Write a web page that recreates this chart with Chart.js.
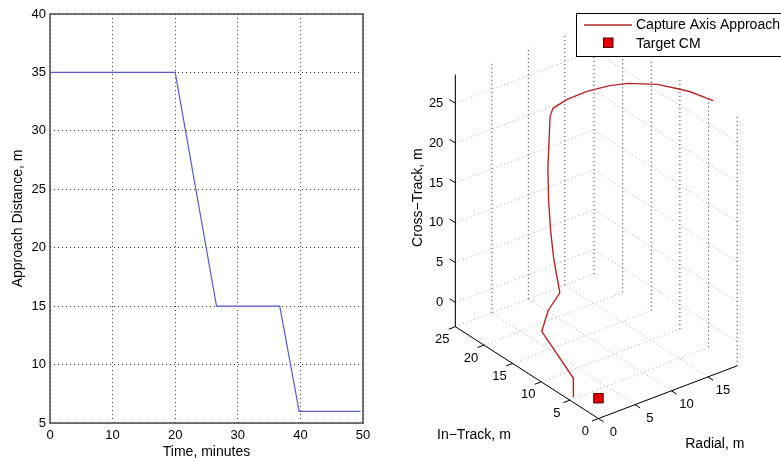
<!DOCTYPE html>
<html><head><meta charset="utf-8">
<script src="https://cdn.jsdelivr.net/npm/chart.js@4.4.1/dist/chart.umd.min.js"></script>
<style>
html,body{margin:0;padding:0;background:#fff;}
#wrap{position:relative;width:781px;height:462px;overflow:hidden;background:#fff;}
#c1{position:absolute;left:0;top:0;}
#c2{position:absolute;left:390px;top:0;}
</style></head><body>
<div id="wrap"><canvas id="c1" width="390" height="462"></canvas><canvas id="c2" width="391" height="462"></canvas></div>
<script>
// ---------- Left panel data ----------
const timeMinutes      = [0, 20, 26.6, 36.7, 39.8, 49.6];
const approachDistance = [35, 35, 15, 15, 6, 6];
const timeTicks        = [0, 10, 20, 30, 40, 50];
const distanceTicks    = [5, 10, 15, 20, 25, 30, 35, 40];

// ---------- Right panel data (3-D trajectory) ----------
const inTrack    = [4.2, 7.3, 9.0, 10.6, 12.7, 13.5, 14.0, 13.9, 13.3, 13.3, 13.3, 13.3, 13.3, 13.3, 14.4, 13.5, 11.7, 4.4, 4.5];
const radial     = [19.0, 18.2, 17.3, 16.4, 14.0, 12.1, 9.4, 6.6, 4.2, 3.8, 3.5, 3.6, 3.9, 4.3, 6.0, 3.7, 1.4, 0.0, 0.1];
const crossTrack = [28.3, 28.3, 28.3, 28.3, 28.3, 28.3, 28.3, 28.3, 28.3, 27.4, 20.9, 16.9, 12.8, 9.4, 4.0, 3.0, 2.0, 0.0, -2.5];
const targetCM   = [0, 0, -0.5];          // in-track, radial, cross-track
const inTrackTicks    = [0, 5, 10, 15, 20, 25];
const radialTicks     = [0, 5, 10, 15];
const crossTrackTicks = [0, 5, 10, 15, 20, 25];
const inTrackLim    = [0, 25];
const radialLim     = [0, 19];
const crossTrackLim = [-3.05, 28.6];

const FONT = "'Liberation Sans', Arial, Helvetica, sans-serif";
Chart.defaults.font.family = FONT;
Chart.defaults.color = '#000';

// ---------- Left chart ----------
const framePlugin = {
  id: 'frame',
  afterDraw(chart) {
    const {ctx, chartArea: a} = chart;
    ctx.save();
    ctx.strokeStyle = '#4a4a4a';
    ctx.lineWidth = 1.5;
    ctx.strokeRect(a.left, a.top, a.right - a.left, a.bottom - a.top);
    ctx.restore();
  }
};

new Chart(document.getElementById('c1'), {
  type: 'line',
  data: {
    datasets: [{
      data: timeMinutes.map((t, k) => ({x: t, y: approachDistance[k]})),
      borderColor: '#5a5ac8', borderWidth: 1.2, pointRadius: 0, tension: 0, fill: false
    }]
  },
  options: {
    responsive: false, animation: false, devicePixelRatio: 1,
    layout: {padding: {top: 14, right: 27, left: 0, bottom: 0}},
    plugins: {legend: {display: false}, tooltip: {enabled: false}},
    scales: {
      x: {
        type: 'linear', min: 0, max: 50,
        afterBuildTicks: s => { s.ticks = timeTicks.map(v => ({value: v})); },
        afterFit: s => { s.height = 39; },
        ticks: {padding: 5, maxRotation: 0, color: '#000', font: {size: 13}},
        grid: {color: '#333', drawTicks: false, lineWidth: 1},
        border: {display: false, dash: [1, 3]},
        title: {display: true, text: 'Time, minutes', color: '#000', font: {size: 14}, padding: {top: 0, bottom: 1.6}}
      },
      y: {
        type: 'linear', min: 5, max: 40,
        afterBuildTicks: s => { s.ticks = distanceTicks.map(v => ({value: v})); },
        afterFit: s => { s.width = 50; },
        ticks: {padding: 4, color: '#000', font: {size: 13}},
        grid: {color: '#333', drawTicks: false, lineWidth: 1},
        border: {display: false, dash: [1, 3]},
        title: {display: true, text: 'Approach Distance, m', color: '#000', font: {size: 14}, padding: {top: 9.6, bottom: 0}}
      }
    }
  },
  plugins: [framePlugin]
});

// ---------- Right chart (3-D view projected onto a pixel-unit scatter plane) ----------
const VIEW = {ox: 209, oy: 425, ix: -5.96, iy: -3.8, rx: 7.6, ry: -2.87, zy: -8.24};
function project(i, r, z) {
  return {
    x: VIEW.ox + VIEW.ix * i + VIEW.rx * r,
    y: VIEW.oy + VIEW.iy * i + VIEW.ry * r + VIEW.zy * (z - crossTrackLim[0])
  };
}

const I0 = inTrackLim[0], I1 = inTrackLim[1];
const R0 = radialLim[0], R1 = radialLim[1];
const Z0 = crossTrackLim[0], Z1 = crossTrackLim[1];

const datasets = [];
datasets.push({
  label: 'Target CM', data: [project(...targetCM)], showLine: false,
  pointStyle: 'rect', pointRadius: 6.7, backgroundColor: '#e00000', borderColor: '#500000', borderWidth: 1, order: 0
});
datasets.push({
  label: 'Capture Axis Approach',
  data: inTrack.map((v, k) => project(v, radial[k], crossTrack[k])),
  showLine: true, borderColor: '#b52828', borderWidth: 1.4, pointRadius: 0, tension: 0, order: 1
});

const VERT = {color: '#222', dash: [1, 3]};
const DIAG = {color: '#b4b4b4', dash: [1.2, 2.8]};
const AXIS = {color: '#000', dash: []};
function seg(a, b, style, order) {
  datasets.push({
    data: [project(...a), project(...b)], showLine: true, pointRadius: 0,
    borderColor: style.color, borderWidth: 1, borderDash: style.dash, order: order
  });
}
// floor grid
inTrackTicks.forEach(i => seg([i, R0, Z0], [i, R1, Z0], DIAG, 3));
radialTicks.forEach(r => seg([I0, r, Z0], [I1, r, Z0], DIAG, 3));
// back wall at in-track max
radialTicks.forEach(r => seg([I1, r, Z0], [I1, r, Z1], VERT, 3));
crossTrackTicks.forEach(z => seg([I1, R0, z], [I1, R1, z], DIAG, 3));
// back wall at radial max
inTrackTicks.forEach(i => seg([i, R1, Z0], [i, R1, Z1], VERT, 3));
crossTrackTicks.forEach(z => seg([I0, R1, z], [I1, R1, z], DIAG, 3));
// axes
seg([I0, R0, Z0], [I1, R0, Z0], AXIS, 2);
seg([I0, R0, Z0], [I0, R1, Z0], AXIS, 2);
seg([I1, R0, Z0], [I1, R0, Z1], AXIS, 2);
// tick marks
crossTrackTicks.forEach(z => seg([I1, R0, z], [I1 + 1.0, R0, z], AXIS, 2));
inTrackTicks.forEach(i => seg([i, R0, Z0], [i, R0 - 0.9, Z0], AXIS, 2));
radialTicks.forEach(r => seg([I0, r, Z0], [I0 - 0.9, r, Z0], AXIS, 2));

const labels3D = {
  id: 'labels3D',
  afterDraw(chart) {
    const {ctx} = chart;
    const sx = chart.scales.x, sy = chart.scales.y;
    const P = (i, r, z) => { const p = project(i, r, z); return [sx.getPixelForValue(p.x), sy.getPixelForValue(p.y)]; };
    ctx.save();
    ctx.fillStyle = '#000';
    ctx.font = '13px ' + FONT;
    ctx.textBaseline = 'middle';
    ctx.textAlign = 'right';
    crossTrackTicks.forEach(z => { const [x, y] = P(I1, R0, z); ctx.fillText(String(z), x - 12, y); });
    ctx.textAlign = 'center';
    inTrackTicks.forEach(i => { const [x, y] = P(i, R0, Z0); ctx.fillText(String(i), x - 13, y + 13); });
    radialTicks.forEach(r => { const [x, y] = P(I0, r, Z0); ctx.fillText(String(r), x + 15, y + 14); });
    ctx.font = '14px ' + FONT;
    let [x, y] = P((I0 + I1) / 2, R0, Z0);
    ctx.fillText('In\u2212Track, m', x - 53, y + 62.5);
    [x, y] = P(I0, (R0 + R1) / 2, Z0);
    ctx.fillText('Radial, m', x + 47, y + 52);
    [x, y] = P(I1, R0, (Z0 + Z1) / 2);
    ctx.save();
    ctx.translate(x - 37, y - 3);
    ctx.rotate(-Math.PI / 2);
    ctx.fillText('Cross\u2212Track, m', 0, 0);
    ctx.restore();

    // legend box
    ctx.fillStyle = '#fff';
    ctx.fillRect(186, 13, 210, 43);
    ctx.strokeStyle = '#000';
    ctx.lineWidth = 1;
    ctx.strokeRect(186.5, 13.5, 210, 43);
    ctx.strokeStyle = '#b52828';
    ctx.lineWidth = 1.4;
    ctx.beginPath(); ctx.moveTo(194, 25); ctx.lineTo(242, 25); ctx.stroke();
    ctx.fillStyle = '#e00000';
    ctx.fillRect(213.5, 38, 9.5, 9.5);
    ctx.strokeStyle = '#500000';
    ctx.lineWidth = 1;
    ctx.strokeRect(213.5, 38, 9.5, 9.5);
    ctx.fillStyle = '#000';
    ctx.font = '14px ' + FONT;
    ctx.textAlign = 'left';
    ctx.fillText('Capture Axis Approach', 246, 25);
    ctx.fillText('Target CM', 246, 44);
    ctx.restore();
  }
};

new Chart(document.getElementById('c2'), {
  type: 'scatter',
  data: {datasets: datasets},
  options: {
    responsive: false, animation: false, devicePixelRatio: 1,
    layout: {padding: 0},
    plugins: {legend: {display: false}, tooltip: {enabled: false}},
    scales: {
      x: {type: 'linear', min: 0, max: 391, display: false},
      y: {type: 'linear', min: 0, max: 462, reverse: true, display: false}
    }
  },
  plugins: [labels3D]
});
</script>
</body></html>
